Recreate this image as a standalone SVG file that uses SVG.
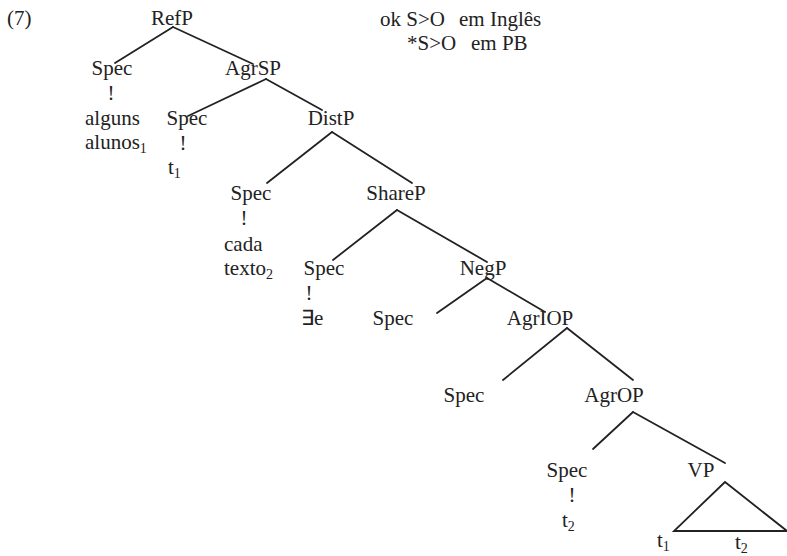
<svg xmlns="http://www.w3.org/2000/svg" width="787" height="556" viewBox="0 0 787 556">
<style>
text{font-family:"Liberation Serif","Times New Roman",serif;font-size:21px;fill:#222}
.m{text-anchor:middle}
.sub{font-size:14px}
.c line,.c polygon{stroke:#222;stroke-width:1.8;fill:none;stroke-linecap:round}
</style>
<rect width="787" height="556" fill="#fff"/>
<g id="label7"><text x="7" y="25">(7)</text></g>
<g id="note"><text x="380" y="26">ok S&gt;O</text><text x="459" y="26">em Inglês</text><text x="407" y="50">*S&gt;O</text><text x="471" y="50">em PB</text></g>
<g class="c" id="connectors">
<line x1="173" y1="27" x2="115" y2="63"/>
<line x1="173" y1="27" x2="253" y2="64"/>
<line x1="266" y1="79" x2="188" y2="116"/>
<line x1="266" y1="79" x2="322" y2="110"/>
<line x1="332" y1="132" x2="267" y2="183"/>
<line x1="332" y1="132" x2="412" y2="183"/>
<line x1="397" y1="210" x2="333" y2="260"/>
<line x1="397" y1="210" x2="487" y2="262"/>
<line x1="487" y1="278" x2="437" y2="313"/>
<line x1="487" y1="278" x2="545" y2="312"/>
<line x1="567" y1="328" x2="503" y2="380"/>
<line x1="567" y1="328" x2="633" y2="380"/>
<line x1="633" y1="412" x2="593" y2="449"/>
<line x1="633" y1="412" x2="725" y2="463"/>
<polygon points="725,482 674,531 787,531"/>
</g>
<g id="RefP"><text class="m" x="172" y="25">RefP</text></g>
<g id="Spec1"><text class="m" x="112" y="75">Spec</text><text class="m" x="111" y="100">!</text><text x="85" y="125">alguns</text><text x="85" y="149">alunos<tspan class="sub" dy="4">1</tspan></text></g>
<g id="AgrSP"><text class="m" x="253" y="75">AgrSP</text></g>
<g id="Spec2"><text class="m" x="187" y="125">Spec</text><text class="m" x="183" y="150">!</text><text x="168" y="174">t<tspan class="sub" dy="4">1</tspan></text></g>
<g id="DistP"><text class="m" x="331" y="125">DistP</text></g>
<g id="Spec3"><text class="m" x="251" y="200">Spec</text><text class="m" x="244" y="225">!</text><text x="224" y="251">cada</text><text x="224" y="275">texto<tspan class="sub" dy="4">2</tspan></text></g>
<g id="ShareP"><text class="m" x="396" y="200">ShareP</text></g>
<g id="Spec4"><text class="m" x="324" y="275">Spec</text><text class="m" x="309" y="300">!</text><text x="301" y="325">∃e</text></g>
<g id="NegP"><text class="m" x="483" y="275">NegP</text></g>
<g id="Spec5"><text class="m" x="393" y="325">Spec</text></g>
<g id="AgrIOP"><text class="m" x="540" y="325">AgrIOP</text></g>
<g id="Spec6"><text class="m" x="464" y="402">Spec</text></g>
<g id="AgrOP"><text class="m" x="614" y="402">AgrOP</text></g>
<g id="Spec7"><text class="m" x="567" y="477">Spec</text><text class="m" x="572" y="502">!</text><text x="562" y="527">t<tspan class="sub" dy="4">2</tspan></text></g>
<g id="VP"><text class="m" x="701" y="477">VP</text><text x="657" y="547">t<tspan class="sub" dy="4">1</tspan></text><text x="735" y="549">t<tspan class="sub" dy="4">2</tspan></text></g>
</svg>
